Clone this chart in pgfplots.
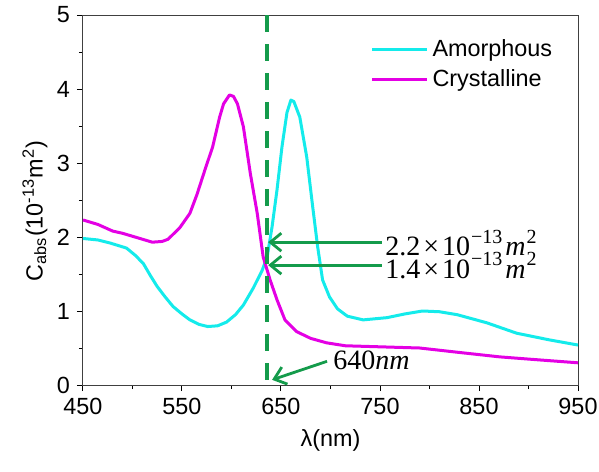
\documentclass[border=0pt]{standalone}
\usepackage{pgfplots}
\pgfplotsset{compat=1.18}
\usepackage{fontspec}
\setmainfont{Liberation Sans}
\newfontfamily\serif{Liberation Serif}
\usetikzlibrary{arrows.meta,calc}

\definecolor{amorph}{RGB}{20,235,235}
\definecolor{cryst}{RGB}{228,0,228}
\definecolor{annot}{RGB}{20,155,75}

\newcommand{\sci}[1]{#1\kern1.5pt×\kern1.5pt10\kern0.5pt\raisebox{0.45em}{\fontsize{10}{10}\selectfont −13}\kern1.5pt\textit{m}\kern0.5pt\raisebox{0.45em}{\fontsize{10}{10}\selectfont 2}}

\begin{document}
\begin{tikzpicture}
\begin{axis}[
    name=ax,
    scale only axis,
    width=247.5pt,
    height=185pt,
    xmin=450, xmax=950,
    ymin=0, ymax=5,
    xtick={450,550,...,950},
    minor xtick={500,600,...,900},
    ytick={0,1,...,5},
    minor ytick={0.5,1.5,...,4.5},
    tick align=outside,
    xtick pos=bottom,
    ytick pos=left,
    major tick length=3pt,
    minor tick length=2pt,
    tick style={black, line width=0.5pt},
    axis line style={line width=0.5pt, black!75},
    /pgf/number format/assume math mode=true,
    ticklabel style={font=\fontsize{11.7}{14}\selectfont},
    xlabel={λ(nm)},
    ylabel={C\textsubscript{abs}(10\textsuperscript{-13}m\textsuperscript{2})},
    label style={font=\fontsize{11.7}{14}\selectfont},
    xlabel style={at={(axis description cs:0.5,-0.149)}, anchor=center},
    ylabel style={at={(axis description cs:-0.097,0.47)}, anchor=center},
    legend style={draw=none, fill=none, at={(axis description cs:0.576,0.951)}, anchor=north west,
        font=\fontsize{11.7}{14}\selectfont, row sep=1pt, inner sep=1pt},
    legend cell align=left,
    legend image code/.code={\draw[#1] (0pt,0pt) -- (27.5pt,0pt);},
    clip=false,
]

\addplot[amorph, line width=1.5pt, line join=round] coordinates {
(450,1.98)(465,1.96)(477,1.92)(494,1.85)(503,1.75)(511,1.64)(518,1.48)(525,1.33)
(533,1.19)(541,1.06)(550,0.96)(558,0.88)(567,0.82)(576,0.79)(586,0.80)(595,0.85)
(604,0.95)(612,1.08)(622,1.31)(631,1.55)(636,1.73)(641,2.14)(646,2.64)(651,3.22)
(656,3.68)(660,3.85)(663,3.83)(669,3.62)(676,3.08)(682,2.41)(687,1.87)(692,1.42)
(699,1.19)(707,1.03)(717,0.93)(733,0.88)(757,0.91)(775,0.96)(793,1.00)(810,0.99)
(828,0.95)(858,0.84)(888,0.70)(921,0.61)(950,0.54)
};
\addlegendentry{Amorphous}

\addplot[cryst, line width=1.5pt, line join=round] coordinates {
(450,2.23)(465,2.17)(480,2.08)(490,2.05)(505,1.99)(520,1.93)(530,1.94)(536,1.97)
(548,2.13)(558,2.32)(565,2.57)(573,2.90)(581,3.22)(588,3.62)(592,3.80)(598,3.92)
(602,3.90)(606,3.80)(612,3.49)(619,2.86)(626,2.32)(632,1.73)(639,1.42)(646,1.15)
(654,0.88)(666,0.72)(680,0.63)(696,0.57)(715,0.53)(740,0.52)(790,0.50)(830,0.44)
(871,0.38)(910,0.34)(950,0.30)
};
\addlegendentry{Crystalline}

% 640 nm marker
\addplot[annot, line width=2pt, dash pattern=on 8.5pt off 6pt, forget plot] coordinates {(636,5)(636,0.03)};

\draw[annot, line width=1.4pt, -{Straight Barb[length=5.5pt,width=9pt]}] (axis cs:752,1.93) -- (axis cs:637,1.93);
\draw[annot, line width=1.4pt, -{Straight Barb[length=5.5pt,width=9pt]}] (axis cs:752,1.62) -- (axis cs:637,1.62);
\draw[annot, line width=1.4pt, -{Straight Barb[length=5.5pt,width=9pt]}] (axis cs:696.5,0.32) -- (axis cs:641,0.07);

\node[anchor=west, inner sep=0pt, font=\serif\fontsize{14}{16}\selectfont] at (axis cs:755,1.92) {\sci{2.2}};
\node[anchor=west, inner sep=0pt, font=\serif\fontsize{14}{16}\selectfont] at (axis cs:755,1.61) {\sci{1.4}};
\node[anchor=west, inner sep=0pt, font=\serif\fontsize{14}{16}\selectfont] at (axis cs:702.5,0.34) {640\textit{nm}};
\end{axis}
\pgfresetboundingbox
\path ($(ax.south west)+(-41.5pt,-43pt)$) rectangle ($(ax.north east)+(10.5pt,7.5pt)$);
\end{tikzpicture}
\end{document}
